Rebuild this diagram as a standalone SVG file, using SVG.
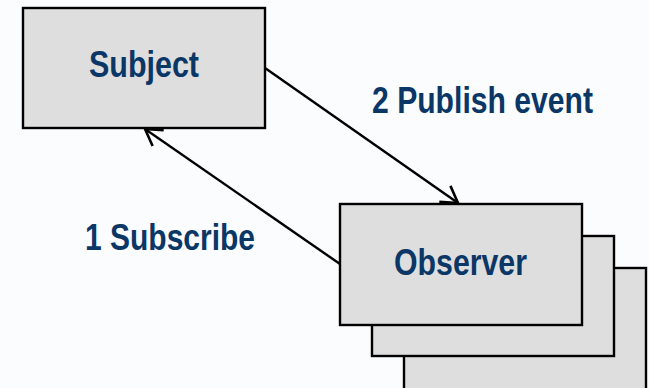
<svg xmlns="http://www.w3.org/2000/svg" width="649" height="388" viewBox="0 0 649 388">
  <style>
    .box { fill: #dedede; stroke: #000; stroke-width: 2.4; }
    .label { font-family: "Liberation Sans", Arial, sans-serif; font-weight: bold; font-size: 37px; fill: #0b3766; }
    .conn { fill: none; stroke: #000; stroke-width: 2.4; }
  </style>
  <defs>
    <marker id="open-arrow" markerUnits="userSpaceOnUse" orient="auto" markerWidth="30" markerHeight="30" viewBox="-20 -15 30 30" refX="0" refY="0" overflow="visible">
      <path d="M-16,-9.7 L0,0 L-16,9.7" fill="none" stroke="#000" stroke-width="2.6"/>
    </marker>
  </defs>
  <rect width="649" height="388" fill="#fbfcfe"/>

  <g id="subject">
    <rect class="box" x="23" y="8" width="242" height="120"/>
    <text class="label" x="89" y="77" textLength="110" lengthAdjust="spacingAndGlyphs">Subject</text>
  </g>

  <g id="observer-stack">
    <rect class="box" x="404" y="268" width="242" height="124"/>
    <rect class="box" x="372" y="236" width="242" height="120"/>
  </g>

  <g id="observer">
    <rect class="box" x="340" y="204" width="242" height="121"/>
    <text class="label" x="394" y="275" textLength="133" lengthAdjust="spacingAndGlyphs">Observer</text>
  </g>

  <g id="connectors">
    <line class="conn" x1="265" y1="68" x2="458" y2="203" marker-end="url(#open-arrow)"/>
    <line class="conn" x1="340" y1="264" x2="145" y2="129" marker-end="url(#open-arrow)"/>
  </g>

  <g id="labels">
    <text class="label" x="372" y="113" textLength="221" lengthAdjust="spacingAndGlyphs">2 Publish event</text>
    <text class="label" x="85" y="250" textLength="170" lengthAdjust="spacingAndGlyphs">1 Subscribe</text>
  </g>
</svg>
